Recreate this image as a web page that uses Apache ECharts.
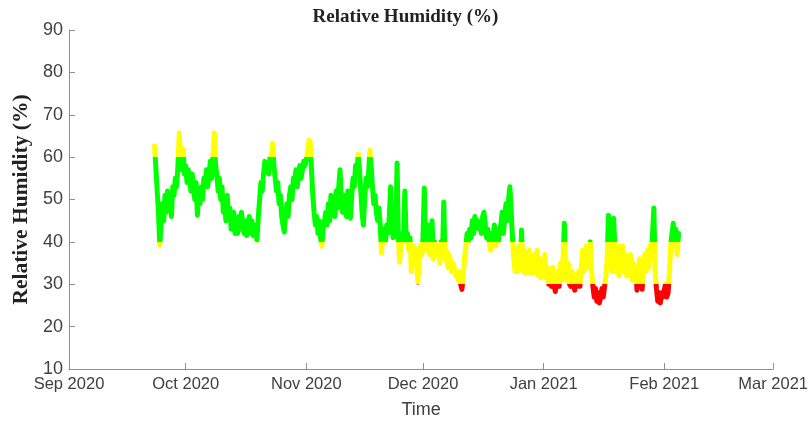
<!DOCTYPE html>
<html>
<head>
<meta charset="utf-8">
<script src="https://cdn.jsdelivr.net/npm/echarts@6/dist/echarts.min.js"></script>
<style>html,body{margin:0;padding:0;background:#fff}#c{width:811px;height:424px}</style>
</head>
<body>
<div id="c"></div>
<script>
// Readings every 8 hours (00:00, 08:00, 16:00)
const sepStart = '2020-09-23';
const sepValues = [
  62.6, 57.4, 52,  47, 39.2, 44,  49, 45, 51,  47, 52, 48,
  50, 46, 53,  51, 55, 53,  58, 65.7, 60,  57, 62, 56
];
const octStart = '2020-10-01';
const octValues = [
  58, 54, 57,  55, 52, 56,  53, 50, 54,  46.3, 51, 49,  53, 50, 55,
  54, 57, 53,  56, 59, 55,  60, 65.7, 58,  56, 52, 55,  50, 53, 47,
  49, 45, 51,  46, 48, 43,  44, 47, 42,  45, 42, 46,  43, 47, 44,
  42, 45, 41.5,  43, 46, 42,  45, 41.5, 44,  44, 40.4, 46,  50, 54, 52,
  56, 59, 57,  58, 56, 60,  59, 63.3, 58,  55, 52, 54,  49, 51, 46,
  44, 42.3, 47,  49, 46, 51,  53, 50, 55,  54, 57, 53,  56, 58, 55,
  57, 59, 58
];
const novStart = '2020-11-01';
const novValues = [
  58, 61, 64,  63.5, 57, 51,  47, 44, 46,  42, 45, 41,  39, 43, 45,
  47, 44, 49,  45, 51, 47,  49, 46, 52,  48, 53, 57,  50, 47, 51,
  49, 46, 52,  48, 45.6, 51,  55, 53, 58,  56, 60.7, 57,  52, 47, 44,
  50, 55, 53,  56, 61.6, 58,  53, 49, 51,  47, 45, 48,  44, 37.4, 42,
  43, 40, 44,  42, 46, 53,  44, 41, 43,  42, 58.6, 41,  35.2, 40, 42,
  41, 52, 40,  42, 38, 41,  33, 37, 39,  38, 36, 30.5,  34, 39, 37
];
const decStart = '2020-12-01';
const decValues = [
  41, 52.7, 38,  40, 44, 37,  39, 45, 36,  40, 37, 39,  38, 35, 40,
  37, 49.4, 36,  38, 34, 37,  36, 33, 35,  34, 32, 33,  31, 33, 30,
  28.8, 32, 36,  39, 42, 40,  43, 41, 45,  42, 46, 44,  45, 43, 44,
  42, 46, 47,  44, 41, 43,  40, 38, 42,  41, 44, 39,  42, 40, 43,
  44, 47, 42,  46, 49, 45,  50, 53, 47,  41, 36, 33,  38, 33, 39,
  34, 42.8, 33,  38, 32.5, 36,  33, 38, 32.5,  36, 32.6, 37,  33, 38, 32,
  36, 31.5, 35
];
const janStart = '2021-01-01';
const janValues = [
  33, 37, 31.5,  34, 30, 33,  29.5, 34, 30,  28.3, 32, 33,  29.5, 35, 31,
  36, 44.4, 33,  31, 35, 30,  29.5, 33, 30,  28.6, 32, 29.5,  33, 29.5, 34,
  38, 33, 36,  39, 34, 37,  40, 33, 29.5,  27, 29, 26,  28, 25.6, 27,
  29, 27, 29.5,  32, 36, 46.3,  34, 39, 33,  45.6, 38, 33,  38, 32, 39,
  34, 39, 33,  37, 32, 36,  33, 37, 31,  35, 31, 34,  28.6, 33, 36,
  32, 28.8, 34,  37, 33, 38,  34, 39, 36,  36, 48, 33,  29, 26, 28,
  25.6, 28, 27
];
const febStart = '2021-02-01';
const febValues = [
  28.5, 30, 27,  28, 33, 39,  42, 44.4, 40,  43, 37, 42
];

const tickDates = ['2020-09-01','2020-10-01','2020-11-01','2020-12-01','2021-01-01','2021-02-01','2021-03-01'];
const tickLabels = ['Sep 2020','Oct 2020','Nov 2020','Dec 2020','Jan 2021','Feb 2021','Mar 2021'];
const yMin = 10, yMax = 90, yStep = 10;

function ts(s){ const p = s.split('-').map(Number); return Date.UTC(p[0], p[1]-1, p[2]); }
const STEP = 8 * 3600 * 1000;
const blocks = [[sepStart, sepValues],[octStart, octValues],[novStart, novValues],[decStart, decValues],[janStart, janValues],[febStart, febValues]];
const points = [];
blocks.forEach(([s, vals]) => { const t0 = ts(s); vals.forEach((v, i) => points.push([t0 + i*STEP, v])); });
const tickTs = tickDates.map(ts);
const labelMap = {}; tickTs.forEach((t,i)=>labelMap[t]=tickLabels[i]);

const axisGray = '#8f8f8f';
const textGray = '#404040';
const sans = "'Liberation Sans Narrow','Arial Narrow','Liberation Sans',sans-serif";

const chart = echarts.init(document.getElementById('c'), null, {renderer:'canvas'});
chart.setOption({
  animation: false,
  backgroundColor: '#fff',
  title: {
    text: 'Relative Humidity (%)', left: 'center', top: 3,
    textStyle: {fontFamily: "'Liberation Serif',serif", fontWeight: 'bold', fontSize: 19, color: '#222'}
  },
  grid: {left: 69, right: 36, top: 30, bottom: 55},
  xAxis: {
    type: 'value', min: tickTs[0], max: tickTs[tickTs.length-1],
    name: 'Time', nameLocation: 'middle', nameGap: 32,
    nameTextStyle: {fontFamily: sans, fontSize: 18, color: textGray},
    axisLine: {show: true, lineStyle: {color: axisGray, width: 1}},
    axisTick: {show: true, inside: true, length: 6, lineStyle: {color: axisGray}, customValues: tickTs},
    axisLabel: {customValues: tickTs, formatter: v => labelMap[v] || '', fontFamily: sans, fontSize: 16.5, color: textGray, margin: 7, showMinLabel: true, showMaxLabel: true},
    splitLine: {show: false}
  },
  yAxis: {
    type: 'value', min: yMin, max: yMax, interval: yStep,
    name: 'Relative Humidity (%)', nameLocation: 'middle', nameGap: 36, nameRotate: 90,
    nameTextStyle: {fontFamily: "'Liberation Serif',serif", fontWeight: 'bold', fontSize: 21.5, color: '#222'},
    axisLine: {show: true, lineStyle: {color: axisGray, width: 1}},
    axisTick: {show: true, inside: true, length: 6, lineStyle: {color: axisGray}},
    axisLabel: {fontFamily: sans, fontSize: 18, color: textGray, margin: 6},
    splitLine: {show: false}
  },
  visualMap: {
    type: 'piecewise', show: false, dimension: 1, seriesIndex: 0,
    pieces: [
      {lt: 30, color: '#ff0000'},
      {gte: 30, lt: 40, color: '#ffff00'},
      {gte: 40, lte: 60, color: '#00ff00'},
      {gt: 60, color: '#ffff00'}
    ]
  },
  series: [{
    type: 'line', data: points, showSymbol: false, symbol: 'none',
    lineStyle: {width: 5, join: 'round', cap: 'round'}, smooth: false
  }]
});
</script>
</body>
</html>
